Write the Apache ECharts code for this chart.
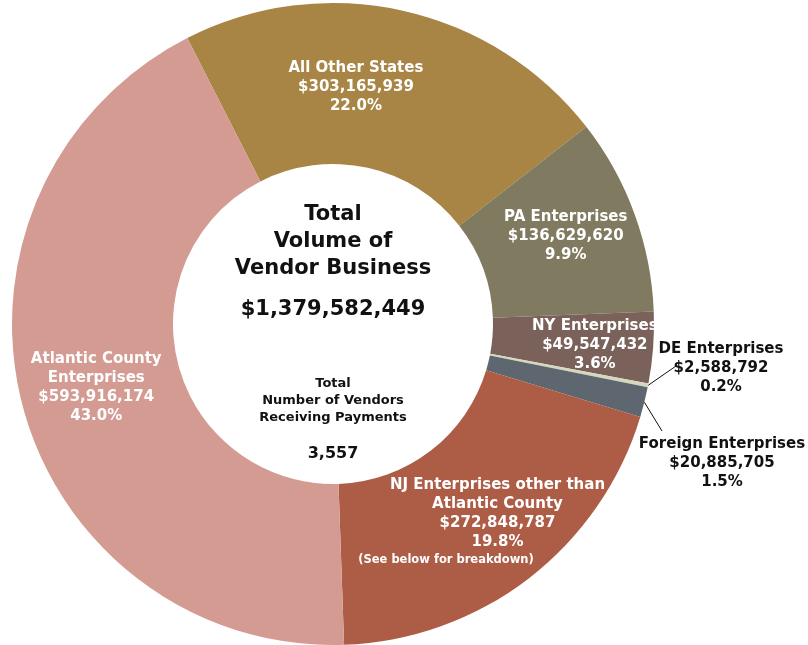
<!DOCTYPE html>
<html>
<head>
<meta charset="utf-8">
<script src="https://cdn.jsdelivr.net/npm/echarts@6/dist/echarts.min.js"></script>
<style>
  html, body { margin: 0; padding: 0; background: #ffffff; }
  #chart { width: 808px; height: 645px; }
</style>
</head>
<body>
<div id="chart"></div>
<script>
// Vendor payments by location of the vendor
const categories = [
  'All Other States',
  'PA Enterprises',
  'NY Enterprises',
  'DE Enterprises',
  'Foreign Enterprises',
  'NJ Enterprises other than\nAtlantic County',
  'Atlantic County\nEnterprises'
];
const amounts = [303165939, 136629620, 49547432, 2588792, 20885705, 272848787, 593916174];
const sliceColors = ['#a88544', '#807a60', '#7a625a', '#d6d8bd', '#5e6770', '#ad5c46', '#d49b93'];
const vendorCount = 3557;
const breakdownNote = '(See below for breakdown)';

const FONT = '"DejaVu Sans", Verdana, sans-serif';
const CX = 333, CY = 324;

const fmtMoney = v => '$' + v.toLocaleString('en-US');
const totalVolume = amounts.reduce((a, b) => a + b, 0);

// Slices labelled outside the ring, with leader lines
const outsideIdx = [3, 4];
// Fine placement of the labels drawn inside the ring
const insideShift = { 0: [-30, 1], 1: [4, -4], 2: [19, 3], 5: [16, -3], 6: [-1, 3] };
// Placement of the outside labels and the end of their leader lines
const outsidePlace = {
  3: { x: 721, y: 368, end: [676, 366] },
  4: { x: 722, y: 463, end: [662, 431] }
};

const pieData = categories.map((name, i) => {
  const outside = outsideIdx.includes(i);
  return {
    name,
    value: amounts[i],
    itemStyle: { color: sliceColors[i] },
    label: {
      position: outside ? 'outside' : 'inside',
      color: outside ? '#111111' : '#ffffff'
    },
    labelLine: { show: outside }
  };
});

const chart = echarts.init(document.getElementById('chart'), null, { renderer: 'canvas' });

// Text in the hole of the ring, plus the note under the NJ label
const extraText = [
  { text: 'Total', x: CX, y: 215, size: 21, color: '#111111' },
  { text: 'Volume of', x: CX, y: 242, size: 21, color: '#111111' },
  { text: 'Vendor Business', x: CX, y: 269, size: 21, color: '#111111' },
  { text: fmtMoney(totalVolume), x: CX, y: 310, size: 21, color: '#111111' },
  { text: 'Total', x: CX, y: 384, size: 13, color: '#111111' },
  { text: 'Number of Vendors', x: CX, y: 401, size: 13, color: '#111111' },
  { text: 'Receiving Payments', x: CX, y: 418, size: 13, color: '#111111' },
  { text: vendorCount.toLocaleString('en-US'), x: CX, y: 454, size: 16, color: '#111111' },
  { text: breakdownNote, x: 446, y: 560, size: 11.5, color: '#ffffff' }
];

chart.setOption({
  backgroundColor: '#ffffff',
  animation: false,
  series: [{
    type: 'pie',
    center: [CX, CY],
    radius: [160, 321],
    startAngle: 117,
    clockwise: true,
    percentPrecision: 1,
    avoidLabelOverlap: false,
    silent: true,
    itemStyle: { borderWidth: 0 },
    label: {
      show: true,
      fontFamily: FONT,
      fontSize: 15,
      fontWeight: 'bold',
      lineHeight: 19,
      align: 'center',
      formatter: p => [p.name, fmtMoney(p.value), p.percent.toFixed(1) + '%'].join('\n')
    },
    labelLine: {
      lineStyle: { color: '#111111', width: 1 },
      length: 20,
      length2: 10
    },
    labelLayout: params => {
      const i = params.dataIndex;
      if (outsidePlace[i]) {
        const o = outsidePlace[i];
        const start = params.labelLinePoints ? params.labelLinePoints[0] : o.end;
        return {
          x: o.x, y: o.y, align: 'center', verticalAlign: 'middle',
          labelLinePoints: [start, o.end, o.end]
        };
      }
      const d = insideShift[i] || [0, 0];
      return { dx: d[0], dy: d[1] };
    },
    data: pieData
  }],
  graphic: extraText.map(l => ({
    type: 'text',
    x: l.x,
    y: l.y,
    z: 100,
    silent: true,
    style: {
      text: l.text,
      align: 'center',
      verticalAlign: 'middle',
      fontFamily: FONT,
      fontSize: l.size,
      fontWeight: 'bold',
      fill: l.color
    }
  }))
});
</script>
</body>
</html>
